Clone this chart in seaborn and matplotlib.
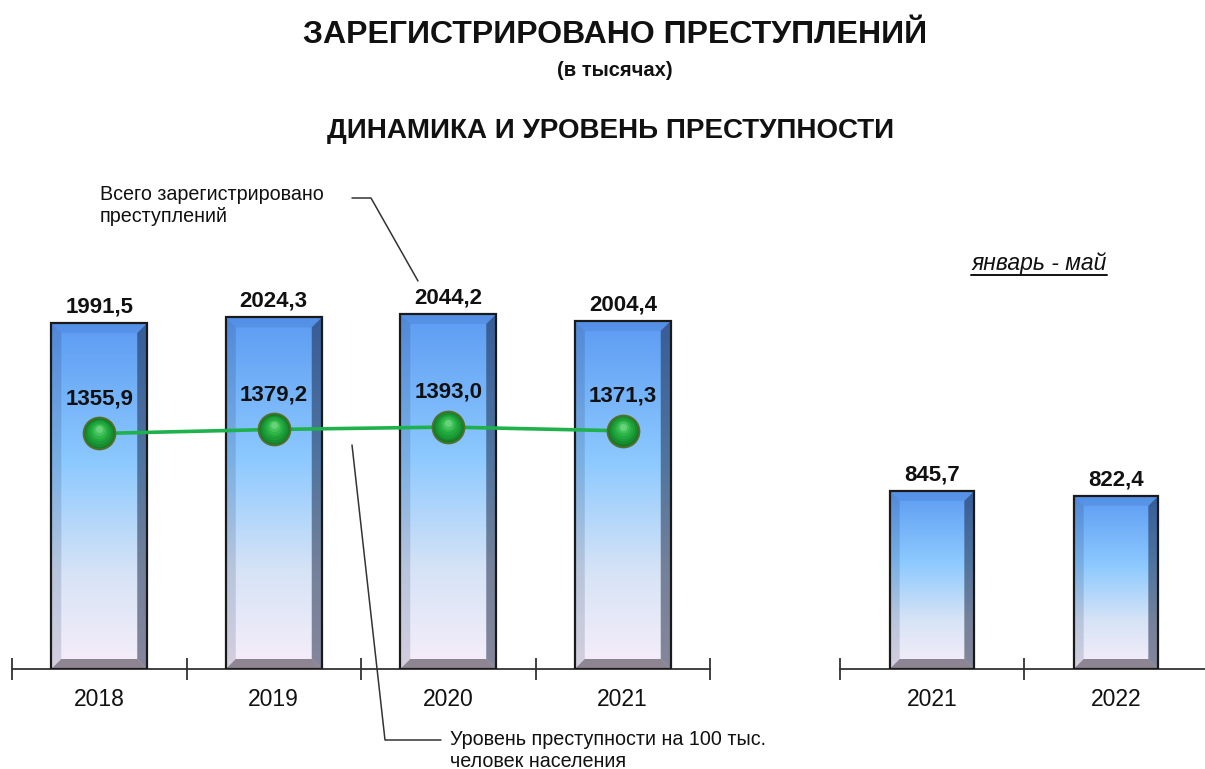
import numpy as np
import pandas as pd
import seaborn as sns
import matplotlib.pyplot as plt
from matplotlib.colors import LinearSegmentedColormap
from matplotlib.patches import Polygon
from matplotlib.lines import Line2D

# data
years = ['2018', '2019', '2020', '2021']
total = [1991.5, 2024.3, 2044.2, 2004.4]
rate = [1355.9, 1379.2, 1393.0, 1371.3]
period_years = ['2021', '2022']
period_total = [845.7, 822.4]

title = 'ЗАРЕГИСТРИРОВАНО ПРЕСТУПЛЕНИЙ'
subtitle = '(в тысячах)'
title2 = 'ДИНАМИКА И УРОВЕНЬ ПРЕСТУПНОСТИ'
note_total = 'Всего зарегистрировано\nпреступлений'
note_rate = 'Уровень преступности на 100 тыс.\nчеловек населения'
period_label = 'январь - май'

sns.set_style('white')
plt.rcParams['font.family'] = ['Liberation Sans', 'DejaVu Sans']

W, H = 1205, 769
fig = plt.figure(figsize=(W / 100, H / 100), dpi=100)


def fx(px):
    return px / W


def fy(py):
    return 1 - py / H


grad = LinearSegmentedColormap.from_list(
    'bar', [(0, '#f7eef9'), (0.28, '#d6e3f6'), (0.6, '#8cc9ff'), (1, '#5c9bf2')])
fmt = lambda v: f'{v:.1f}'.replace('.', ',')


def fancy_bars(ax, ymax):
    ax.set_ylim(0, ymax)
    x_lo, x_hi = ax.get_xlim()
    bx = 10 * (x_hi - x_lo) / ax.bbox.width
    by = 10 * ymax / ax.bbox.height
    img = np.linspace(0, 1, 256).reshape(-1, 1)
    for p in ax.patches:
        x0, y0 = p.get_x(), p.get_y()
        x1, y1 = x0 + p.get_width(), y0 + p.get_height()
        im = ax.imshow(img, cmap=grad, origin='lower', aspect='auto',
                       extent=(x0, x1, y0, y1), zorder=2)
        im.set_clip_path(p)
        bevels = [
            ([(x0, y0), (x0 + bx, y0 + by), (x0 + bx, y1 - by), (x0, y1)], '#10204a', 0.15),
            ([(x1, y0), (x1 - bx, y0 + by), (x1 - bx, y1 - by), (x1, y1)], '#14203f', 0.5),
            ([(x0, y1), (x0 + bx, y1 - by), (x1 - bx, y1 - by), (x1, y1)], '#3060b0', 0.18),
            ([(x0, y0), (x0 + bx, y0 + by), (x1 - bx, y0 + by), (x1, y0)], '#3a3040', 0.55),
        ]
        for pts, c, a in bevels:
            ax.add_patch(Polygon(pts, closed=True, facecolor=c, alpha=a,
                                 edgecolor='none', zorder=3))
        p.set_facecolor('none')
        p.set_zorder(4)
    ax.set_xlim(x_lo, x_hi)


def style_axis(ax, n):
    ax.set_xlim(-0.5, n - 0.5)
    sns.despine(ax=ax, left=True)
    ax.spines['bottom'].set_color('#333333')
    ax.spines['bottom'].set_linewidth(1.3)
    ax.set_yticks([])
    ax.set_xlabel('')
    ax.set_ylabel('')
    ax.set_xticks(np.arange(-0.5, n, 1.0), minor=True)
    ax.tick_params(axis='x', which='minor', bottom=True, direction='inout',
                   length=16, width=1.3, color='#333333')
    ax.tick_params(axis='x', which='major', length=0, pad=14,
                   labelsize=16.5, labelcolor='#111111')
    ax.patch.set_alpha(0)


# left panel: yearly totals and rate
ax = fig.add_axes([fx(12), fy(669), fx(698), 400 / H])
df = pd.DataFrame({'year': years, 'total': total})
sns.barplot(data=df, x='year', y='total', ax=ax, width=0.55,
            color='#7fbfff', edgecolor='#1a1a1a', linewidth=1.6)
style_axis(ax, len(years))
fancy_bars(ax, 2303)
ax.bar_label(ax.containers[0], labels=[fmt(v) for v in total], padding=4,
             fontsize=16, fontweight='bold', color='#111111')

pos = np.arange(len(years))
sns.lineplot(x=pos, y=rate, ax=ax, color='#1fb14b', linewidth=2.6, zorder=5)
ax.plot(pos, rate, 'o', ms=23, mfc='#127a28', mec='#55702a', mew=1.3, zorder=6)
# soft sphere shading: stacked discs, lighter and smaller toward the top
for k, (ms, c) in enumerate([(20, '#178d30'), (17, '#1c9c37'), (14, '#22a93e'),
                             (11, '#2fb54a'), (8, '#45c25c'), (5, '#68d27a')]):
    ax.plot(pos, np.array(rate) + 4 * (k + 1), 'o', ms=ms, mfc=c, mec='none',
            zorder=6.1 + k * 0.1)
for x, v in zip(pos, rate):
    ax.annotate(fmt(v), (x, v), xytext=(0, 25), textcoords='offset points',
                ha='center', va='center', fontsize=16, fontweight='bold',
                color='#111111', zorder=9)

# right panel: January - May
ax2 = fig.add_axes([fx(840), fy(669), fx(368), 400 / H])
df2 = pd.DataFrame({'year': period_years, 'total': period_total})
sns.barplot(data=df2, x='year', y='total', ax=ax2, width=0.46,
            color='#7fbfff', edgecolor='#1a1a1a', linewidth=1.6)
style_axis(ax2, len(period_years))
fancy_bars(ax2, 1900)
ax2.bar_label(ax2.containers[0], labels=[fmt(v) for v in period_total], padding=4,
              fontsize=16, fontweight='bold', color='#111111')

# titles
fig.text(fx(615), fy(35), title, ha='center', va='center', fontsize=23,
         fontweight='bold', color='#111111')
fig.text(fx(615), fy(70), subtitle, ha='center', va='center', fontsize=14.5,
         fontweight='bold', color='#111111')
fig.text(fx(611), fy(131), title2, ha='center', va='center', fontsize=20,
         fontweight='bold', color='#111111')

# callouts
fig.text(fx(100), fy(185), note_total, ha='left', va='top', fontsize=14.2,
         linespacing=1.2, color='#111111')
fig.add_artist(Line2D([fx(352), fx(371), fx(418)], [fy(198), fy(198), fy(281)],
                      color='#333333', lw=1.1))
fig.text(fx(450), fy(730), note_rate, ha='left', va='top', fontsize=14.2,
         linespacing=1.2, color='#111111')
fig.add_artist(Line2D([fx(352), fx(385), fx(441)], [fy(445), fy(740), fy(740)],
                      color='#333333', lw=1.1))

pt = fig.text(fx(1039), fy(263), period_label, ha='center', va='center',
              fontsize=16.5, fontstyle='italic', color='#111111')
fig.canvas.draw()
bb = pt.get_window_extent().transformed(fig.transFigure.inverted())
fig.add_artist(Line2D([bb.x0, bb.x1], [bb.y0 - 0.001, bb.y0 - 0.001],
                      color='#111111', lw=1.4))

fig.savefig('out.png', dpi=100)
